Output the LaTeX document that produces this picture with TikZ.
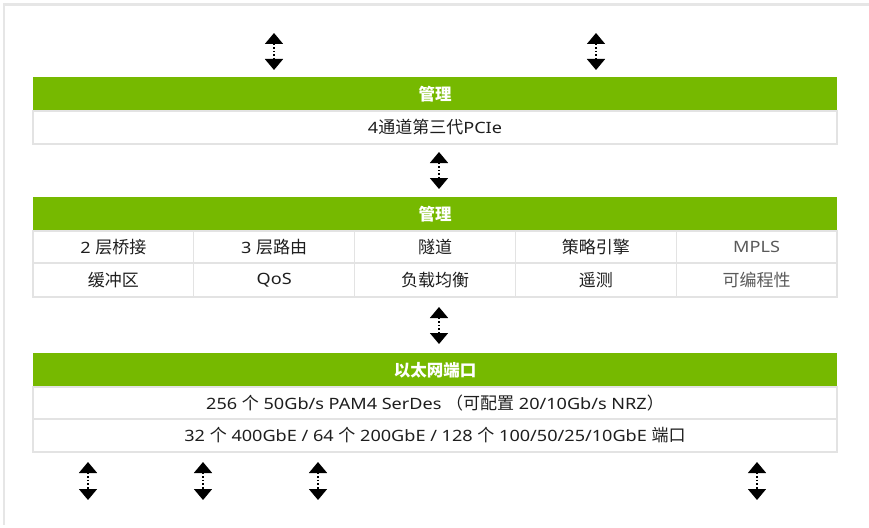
\documentclass[tikz,border=0pt]{standalone}
\usepackage{fontspec}
\setmainfont{Noto Sans}[FakeStretch=1.16]
\newfontfamily\cjk{Noto Sans CJK SC}
\newcommand\cj[1]{{\fontsize{17}{19}\selectfont\cjk #1}}
\usetikzlibrary{arrows.meta}
\definecolor{nvgreen}{HTML}{76B900}
\definecolor{cellgray}{HTML}{E3E3E3}
\definecolor{framegray}{HTML}{E6E6E6}
\definecolor{txt}{HTML}{1E1E1E}
\definecolor{lighttxt}{HTML}{5A5A5A}
\tikzset{
  hdr/.style={fill=nvgreen, draw=none, anchor=north west, inner sep=0pt, outer sep=0pt,
    minimum height=34pt, text=white, font=\fontsize{16.5}{18}\selectfont\cjk\bfseries},
  cell/.style={fill=white, draw=cellgray, line width=1.3pt, anchor=north west, inner sep=0pt, outer sep=0pt,
    text=txt, font=\fontsize{15.6}{19}\selectfont},
  wide/.style={minimum width=804pt},
  col/.style={minimum width=160.8pt},
  biarrow/.style={black, line width=1.6pt, dotted, {Triangle[width=18pt,length=11pt]}-{Triangle[width=18pt,length=11pt]}, shorten <=0pt, shorten >=0pt},
}
\begin{document}
\begin{tikzpicture}[x=1pt,y=-1pt]
\useasboundingbox (0,0) rectangle (869,527);
\draw[framegray, line width=2.5pt] (4.2,525) -- (4.2,4.5) -- (869,4.5);

% block 1
\node[hdr, wide] (h1) at (33,77) {管理};
\node[cell, wide, minimum height=33pt] (pcie) at (33,111) {4\cj{通道第三代}PCIe};

% block 2
\node[hdr, wide] (h2) at (33,197) {管理};
\foreach \i/\t/\s in {0/{2 \cj{层桥接}}/txt, 1/{3 \cj{层路由}}/txt, 2/{\cj{隧道}}/txt, 3/{\cj{策略引擎}}/txt, 4/MPLS/lighttxt}{
  \node[cell, col, minimum height=32pt, text=\s] (ra\i) at (33+160.8*\i,231) {\t};
}
\foreach \i/\t/\s in {0/{\cj{缓冲区}}/txt, 1/QoS/txt, 2/{\cj{负载均衡}}/txt, 3/{\cj{遥测}}/txt, 4/{\cj{可编程性}}/lighttxt}{
  \node[cell, col, minimum height=34pt, text=\s] (rb\i) at (33+160.8*\i,263) {\t};
}

% block 3
\node[hdr, wide] (h3) at (33,353) {以太网端口};
\node[cell, wide, minimum height=32pt] (serdes) at (33,387) {256 \cj{个} 50Gb/s PAM4 SerDes \cj{（可配置} 20/10Gb/s NRZ\cj{）}};
\node[cell, wide, minimum height=33pt] (ports) at (33,419) {32 \cj{个} 400GbE / 64 \cj{个} 200GbE / 128 \cj{个} 100/50/25/10GbE \cj{端口}};

% arrows
\coordinate (a1t) at (274,33); \coordinate (a1b) at (274,70);
\coordinate (a2t) at (596,33); \coordinate (a2b) at (596,70);
\coordinate (a3t) at (439,152); \coordinate (a3b) at (439,189);
\coordinate (a4t) at (439,307); \coordinate (a4b) at (439,344);
\coordinate (b1t) at (88,462); \coordinate (b1b) at (88,500);
\coordinate (b2t) at (203,462); \coordinate (b2b) at (203,500);
\coordinate (b3t) at (318,462); \coordinate (b3b) at (318,500);
\coordinate (b4t) at (757,462); \coordinate (b4b) at (757,500);
\foreach \p in {a1,a2,a3,a4,b1,b2,b3,b4}{
  \draw[biarrow] (\p t) -- (\p b);
}
\end{tikzpicture}
\end{document}
